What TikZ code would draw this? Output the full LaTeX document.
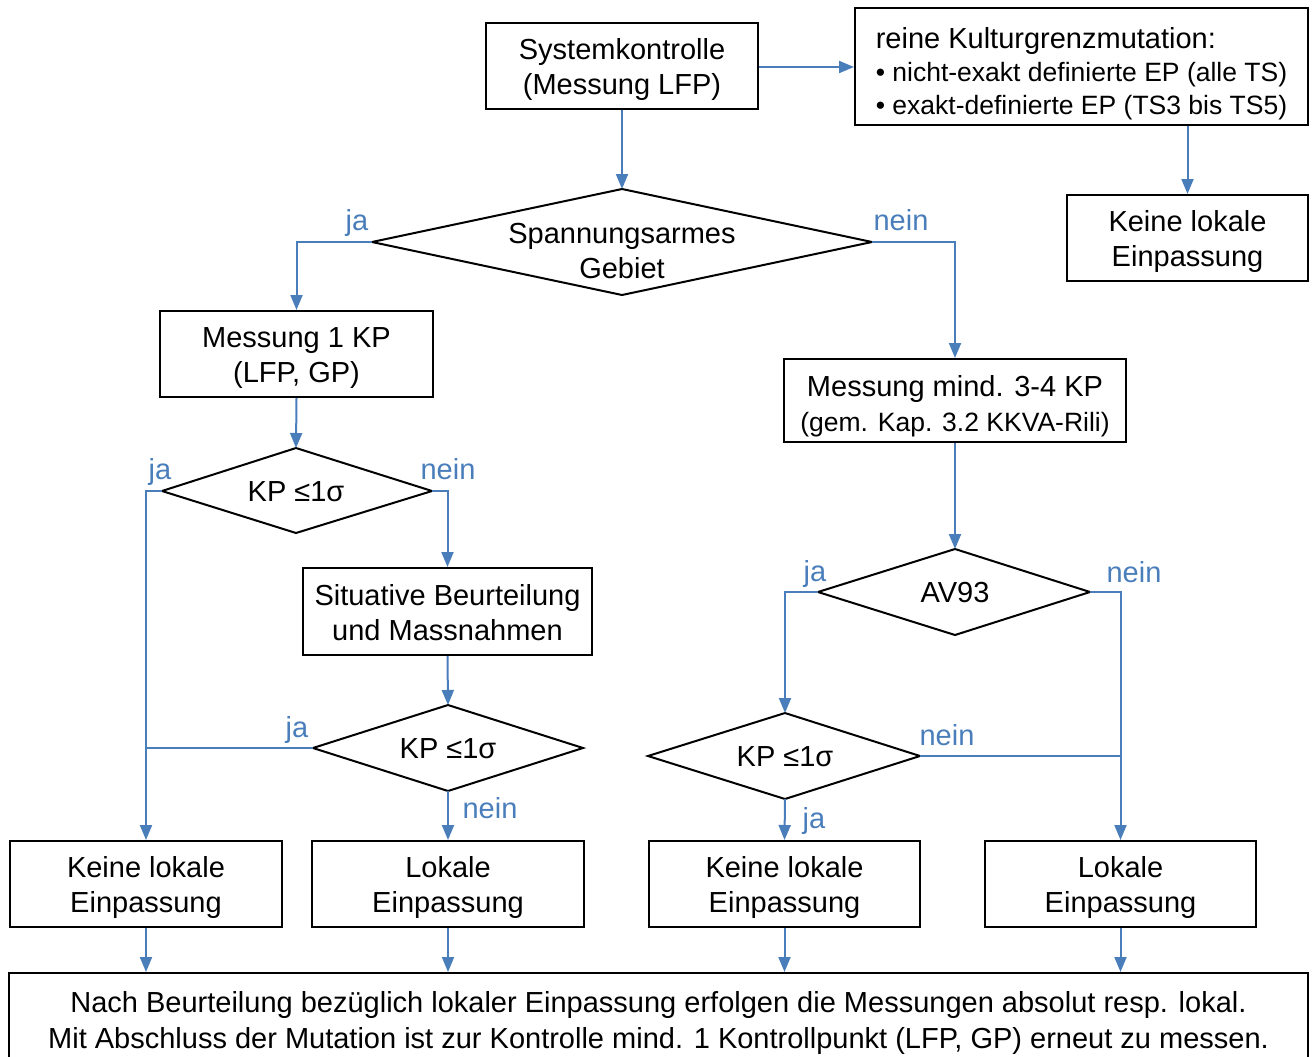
\documentclass[tikz,border=0pt]{standalone}
\usepackage{fontspec}
\setmainfont{Liberation Sans}
\usetikzlibrary{arrows.meta}
\definecolor{conblue}{RGB}{74,126,187}
\newcommand{\topstrutx}[1]{\rule{0pt}{#1}}
\newcommand{\botstrutx}{\rule[-7pt]{0pt}{7pt}}
\begin{document}
\begin{tikzpicture}[x=1pt,y=-1pt,
 box/.style={draw=black, line width=2pt, inner sep=0pt, align=center, font=\fontsize{29}{35}\selectfont},
 dia/.style={draw=black, line width=2pt, line join=miter},
 con/.style={draw=conblue, line width=2pt, -{Triangle[width=12pt,length=15pt]}},
 joinline/.style={draw=conblue, line width=2pt},
 lab/.style={text=conblue, font=\fontsize{29}{35}\selectfont, inner sep=0pt},
 dtext/.style={align=center, inner sep=0pt, font=\fontsize{29}{35}\selectfont}]
\useasboundingbox (0,0) rectangle (1314,1057);

% boxes
\node[box, minimum width=272, minimum height=86] (sys) at (622,66) {\topstrutx{29pt}Systemkontrolle\\(Messung LFP)\botstrutx};
\node[box, minimum width=453, minimum height=117, align=left, font=\fontsize{29}{33}\selectfont] (kul) at (1081.5,66.5)
 {\topstrutx{36pt}reine Kulturgrenzmutation:\\{\fontsize{26.5}{33}\selectfont • nicht-exakt definierte EP (alle TS)}\\{\fontsize{26.5}{33}\selectfont • exakt-definierte EP (TS3 bis TS5)\botstrutx}};
\node[box, minimum width=241, minimum height=86] (kt) at (1187.5,238) {\topstrutx{29pt}Keine lokale\\Einpassung\botstrutx};
\node[box, minimum width=273, minimum height=86] (m1) at (296.5,354) {\topstrutx{29pt}Messung 1 KP\\(LFP, GP)\botstrutx};
\node[box, minimum width=342, minimum height=83] (mm) at (955,400.5) {\topstrutx{34pt}Messung mind. 3-4 KP\\{\fontsize{26.5}{33}\selectfont (gem. Kap. 3.2 KKVA-Rili)\botstrutx}};
\node[box, minimum width=289, minimum height=87] (sit) at (447.5,611.5) {\topstrutx{29pt}Situative Beurteilung\\und Massnahmen\botstrutx};
\node[box, minimum width=272, minimum height=86] (k1) at (146,884) {\topstrutx{29pt}Keine lokale\\Einpassung\botstrutx};
\node[box, minimum width=272, minimum height=86] (l1) at (448,884) {\topstrutx{29pt}Lokale\\Einpassung\botstrutx};
\node[box, minimum width=271, minimum height=86] (k2) at (784.5,884) {\topstrutx{29pt}Keine lokale\\Einpassung\botstrutx};
\node[box, minimum width=271, minimum height=86] (l2) at (1120.5,884) {\topstrutx{29pt}Lokale\\Einpassung\botstrutx};
\node[box, minimum width=1299, minimum height=92, anchor=north, font=\fontsize{29}{36}\selectfont] (bot) at (658.5,972)
 {\topstrutx{29pt}Nach Beurteilung bezüglich lokaler Einpassung erfolgen die Messungen absolut resp. lokal.\\Mit Abschluss der Mutation ist zur Kontrolle mind. 1 Kontrollpunkt (LFP, GP) erneut zu messen.\botstrutx};

% diamonds
\coordinate (d1t) at (622,189); \coordinate (d1b) at (622,295);
\coordinate (d1l) at (372,242); \coordinate (d1r) at (872,242);
\draw[dia] (d1t) -- (d1r) -- (d1b) -- (d1l) -- cycle;
\node[dtext] (d1) at (622,251) {Spannungsarmes\\Gebiet};

\coordinate (d2t) at (296,448); \coordinate (d2b) at (296,533);
\coordinate (d2l) at (162,491); \coordinate (d2r) at (432,491);
\draw[dia] (d2t) -- (d2r) -- (d2b) -- (d2l) -- cycle;
\node[dtext] (d2) at (296,492) {KP ≤1σ};

\coordinate (d3t) at (448,705); \coordinate (d3b) at (448,791);
\coordinate (d3l) at (313,748); \coordinate (d3r) at (583,748);
\draw[dia] (d3t) -- (d3r) -- (d3b) -- (d3l) -- cycle;
\node[dtext] (d3) at (448,749) {KP ≤1σ};

\coordinate (d4t) at (955,549); \coordinate (d4b) at (955,635);
\coordinate (d4l) at (818,592); \coordinate (d4r) at (1090,592);
\draw[dia] (d4t) -- (d4r) -- (d4b) -- (d4l) -- cycle;
\node[dtext] (d4) at (955,593) {AV93};

\coordinate (d5t) at (785,713); \coordinate (d5b) at (785,799);
\coordinate (d5l) at (648,756); \coordinate (d5r) at (920,756);
\draw[dia] (d5t) -- (d5r) -- (d5b) -- (d5l) -- cycle;
\node[dtext] (d5) at (785,757) {KP ≤1σ};

% connectors
\draw[con] (sys.east |- 0,67) -- (kul.west |- 0,67);
\draw[con] (kul.south -| kt.north) -- (kt.north);
\draw[con] (sys.south) -- (d1t);
\draw[con] (d1l) -| (m1.north);
\draw[con] (d1r) -| (mm.north);
\draw[con] (m1.south) -- (d2t);
\draw[con] (d2l) -| (k1.north);
\draw[con] (d2r) -| (sit.north);
\draw[con] (sit.south) -- (d3t);
\draw[joinline] (d3l) -- (d3l -| k1.north);
\draw[con] (d3b) -- (l1.north);
\draw[con] (mm.south) -- (d4t);
\draw[con] (d4l) -| (d5t);
\draw[con] (d4r) -| (l2.north);
\draw[joinline] (d5r) -- (d5r -| l2.north);
\draw[con] (d5b) -- (k2.north);
\draw[con] (k1.south) -- (k1.south |- bot.north);
\draw[con] (l1.south) -- (l1.south |- bot.north);
\draw[con] (k2.south) -- (k2.south |- bot.north);
\draw[con] (l2.south) -- (l2.south |- bot.north);

% labels
\node[lab] (la1) at (357,222.5) {ja};
\node[lab] (la2) at (901,220) {nein};
\node[lab] (la3) at (160,471.5) {ja};
\node[lab] (la4) at (448,469) {nein};
\node[lab] (la5) at (297,729.5) {ja};
\node[lab] (la6) at (490,808) {nein};
\node[lab] (la7) at (815,573.5) {ja};
\node[lab] (la8) at (1134,572) {nein};
\node[lab] (la9) at (947,735) {nein};
\node[lab] (la10) at (814,820.5) {ja};
\end{tikzpicture}
\end{document}
